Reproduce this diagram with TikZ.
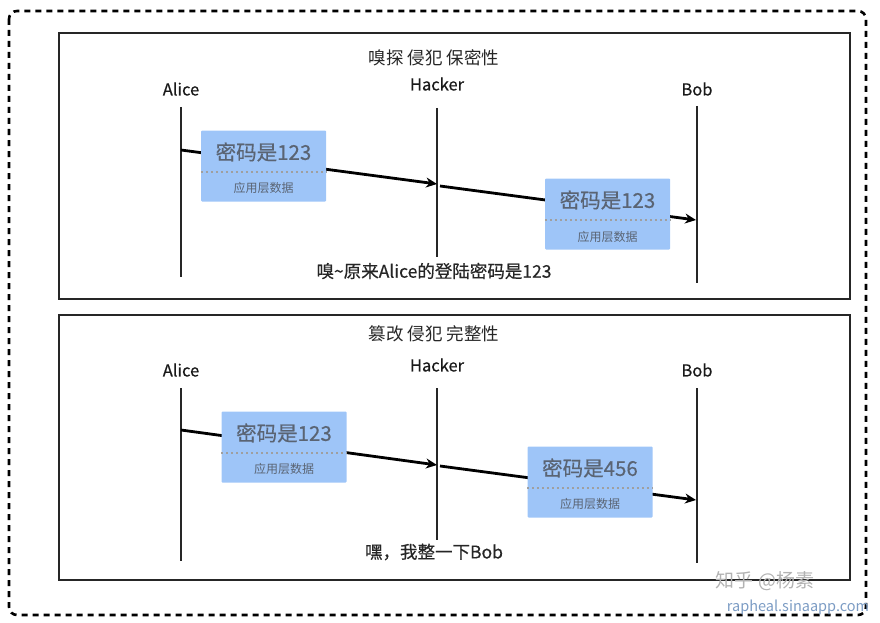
\documentclass[tikz,border=0pt]{standalone}
\usepackage{fontspec}
\setmainfont{Noto Sans CJK SC}
\newfontfamily\medfont{Noto Sans CJK SC}[FakeBold=0.5]
\usetikzlibrary{arrows.meta}
\definecolor{pktblue}{HTML}{9EC5F8}
\definecolor{pkttext}{HTML}{5A6473}
\definecolor{urlblue}{HTML}{7C9CC4}
\tikzset{
  frame/.style={draw=black!85, line width=1.6pt},
  actor/.style={font=\medfont\fontsize{16.5}{18}\selectfont, text=black!90, inner sep=0pt},
  title/.style={font=\fontsize{17.5}{19}\selectfont, text=black!85, inner sep=0pt},
  capt/.style={font=\medfont\fontsize{17.5}{19}\selectfont, text=black!85, inner sep=0pt},
  life/.style={draw=black!85, line width=1.6pt},
  msg/.style={draw=black, line width=2.8pt, -{Stealth[length=11pt,width=10pt]}},
  pkt/.style={fill=pktblue, rounded corners=1pt, minimum width=125pt, minimum height=71pt, inner sep=0pt},
  pktmain/.style={font=\medfont\fontsize{20.5}{22}\selectfont, text=pkttext, inner sep=0pt},
  pktsub/.style={font=\fontsize{12}{14}\selectfont, text=pkttext, inner sep=0pt},
  pktdiv/.style={draw=gray!75, line width=2pt, dash pattern=on 2pt off 3pt},
}
\begin{document}
\begin{tikzpicture}[x=1pt,y=-1pt]
\useasboundingbox (0,0) rectangle (880,623);
% outer dashed frame
\draw[line width=2.6pt, dash pattern=on 6pt off 5pt, rounded corners=8pt] (9,11) rectangle (866,615);
% panels
\draw[frame] (59,33) rectangle (850,299);
\draw[frame] (59,315) rectangle (850,580);

% ===== top panel =====
\node[title] (t1) at (434,58) {嗅探 侵犯 保密性};
\node[actor] (a1) at (181,89) {Alice};
\node[actor] (h1) at (437,84) {Hacker};
\node[actor] (b1) at (697,89) {Bob};
\coordinate (a1t) at (181,107); \coordinate (a1b) at (181,277);
\coordinate (h1t) at (437,108); \coordinate (h1b) at (437,257);
\coordinate (b1t) at (697,106); \coordinate (b1b) at (697,283);
\draw[life] (a1t) -- (a1b);
\draw[life] (h1t) -- (h1b);
\draw[life] (b1t) -- (b1b);
\coordinate (a1o) at (181,150); \coordinate (h1i) at (437,184);
\coordinate (h1o) at (440,186); \coordinate (b1i) at (696,220);
\draw[msg] (a1o) -- (h1i);
\draw[msg] (h1o) -- (b1i);
\node[pkt] (p1) at (263.5,166) {};
\node[pktmain] (p1m) at (263.5,152) {密码是123};
\draw[pktdiv] (p1.west |- 0,172) -- (p1.east |- 0,172);
\node[pktsub] (p1s) at (263.5,188) {应用层数据};
\node[pkt] (p2) at (607.5,214) {};
\node[pktmain] (p2m) at (607.5,200) {密码是123};
\draw[pktdiv] (p2.west |- 0,220) -- (p2.east |- 0,220);
\node[pktsub] (p2s) at (607.5,237) {应用层数据};
\node[capt] (c1) at (434,271) {嗅\textasciitilde 原来Alice的登陆密码是123};

% ===== bottom panel =====
\node[title] (t2) at (434,334) {篡改 侵犯 完整性};
\node[actor] (a2) at (181,370) {Alice};
\node[actor] (h2) at (437,365) {Hacker};
\node[actor] (b2) at (697,370) {Bob};
\coordinate (a2t) at (181,388); \coordinate (a2b) at (181,561);
\coordinate (h2t) at (437,388); \coordinate (h2b) at (437,540);
\coordinate (b2t) at (697,388); \coordinate (b2b) at (697,563);
\draw[life] (a2t) -- (a2b);
\draw[life] (h2t) -- (h2b);
\draw[life] (b2t) -- (b2b);
\coordinate (a2o) at (181,430); \coordinate (h2i) at (437,465);
\coordinate (h2o) at (440,466); \coordinate (b2i) at (696,500);
\draw[msg] (a2o) -- (h2i);
\draw[msg] (h2o) -- (b2i);
\node[pkt] (p3) at (284,447) {};
\node[pktmain] (p3m) at (284,433) {密码是123};
\draw[pktdiv] (p3.west |- 0,453) -- (p3.east |- 0,453);
\node[pktsub] (p3s) at (284,469) {应用层数据};
\node[pkt] (p4) at (590,482) {};
\node[pktmain] (p4m) at (590,468) {密码是456};
\draw[pktdiv] (p4.west |- 0,488) -- (p4.east |- 0,488);
\node[pktsub] (p4s) at (590,504) {应用层数据};
\node[capt] (c2) at (434,552) {嘿，我整一下Bob};

% watermark
\node[inner sep=0pt, text=black!30, font=\fontsize{19}{21}\selectfont] (wm) at (765,581) {知乎 @杨素};
\node[inner sep=0pt, text=urlblue, font=\fontsize{14.5}{16}\selectfont] (url) at (798,607) {rapheal.sinaapp.com};
\end{tikzpicture}
\end{document}
